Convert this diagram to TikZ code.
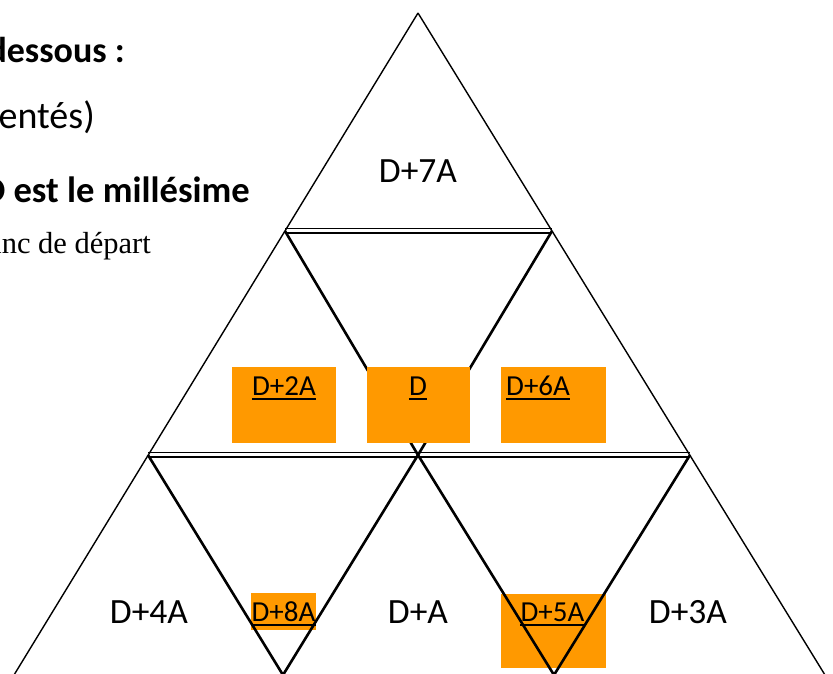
\documentclass[tikz,border=0pt]{standalone}
\usepackage{fontspec}
\setmainfont{Carlito}
\newfontfamily\tmsfont{Liberation Serif}
\definecolor{boxorange}{RGB}{255,153,0}
\begin{document}
\begin{tikzpicture}[x=1pt,y=-1pt,
  thin line/.style={line width=1.4pt, line join=miter},
  thick line/.style={line width=2.6pt, line join=miter},
  big label/.style={inner sep=0pt, anchor=base, font=\fontsize{35.5}{40}\selectfont},
  box label/.style={inner sep=0pt, anchor=base, font=\fontsize{29}{34}\selectfont},
  head text/.style={inner sep=0pt, anchor=base east, font=\fontsize{36}{42}\selectfont},
  orangebox/.style={fill=boxorange}]
\useasboundingbox (0,0) rectangle (833,673);

% boxes under the lines
\fill[orangebox] (251,593) rectangle (316,630);
\fill[orangebox] (501,594) rectangle (606,668);

% outer sides
\coordinate (apex) at (418,13);
\coordinate (L1) at (285,231);
\coordinate (R1) at (552,231);
\coordinate (L2) at (148,455);
\coordinate (M2) at (418,455);
\coordinate (R2) at (690,455);
\coordinate (LB) at (14,675);
\coordinate (RB) at (825,675);
\coordinate (B1) at (283,675);
\coordinate (B2) at (554,675);

\draw[thin line] (apex) -- (LB);
\draw[thin line] (apex) -- (RB);

% double horizontal lines
\draw[thin line] ([yshift=-2]L1) -- ([yshift=-2]R1);
\draw[thin line] ([yshift=2.5]L1) -- ([yshift=2.5]R1);
\draw[thin line] ([yshift=-2]L2) -- ([yshift=-2]R2);
\draw[thin line] ([yshift=2.5]L2) -- ([yshift=2.5]R2);

% inner inverted triangles
\draw[thick line] (L1) -- (M2) -- (R1);
\draw[thick line] (L2) -- (B1) -- (M2) -- (B2) -- (R2);

% boxes over the lines
\fill[orangebox] (232,367) rectangle (336,443);
\fill[orangebox] (367,367) rectangle (470,443);
\fill[orangebox] (501,367) rectangle (606,443);

% big labels
\node[big label] (t7) at (418,182) {D+7A};
\node[big label] (t4) at (149,623) {D+4A};
\node[big label] (t1) at (418,623) {D+A};
\node[big label] (t3) at (688,623) {D+3A};

% box labels
\node[box label] (b2) at (284,395) {D+2A};
\node[box label] (b0) at (418,395) {D};
\node[box label, anchor=base west] (b6) at (506,395) {D+6A};
\node[box label] (b8) at (283.5,621) {D+8A};
\node[box label] (b5) at (552.5,621) {D+5A};
\foreach \n in {b2,b0,b6,b8,b5}
  \draw[line width=1.8pt] ([yshift=-4]\n.base west) -- ([yshift=-4]\n.base east);

% text at top left
\node[head text, font=\fontsize{36}{42}\selectfont\bfseries] (h1) at (125,62) {ci-dessous :};
\node[head text, font=\fontsize{38}{44}\selectfont] (h2) at (95,128) {(non présentés)};
\node[head text, font=\fontsize{36.6}{42}\selectfont\bfseries] (h3) at (250,202) {où D est le millésime};
\node[inner sep=0pt, anchor=base east, font=\tmsfont\fontsize{30.5}{36}\selectfont] (h4) at (151,253) {le blanc de départ};
\end{tikzpicture}
\end{document}
